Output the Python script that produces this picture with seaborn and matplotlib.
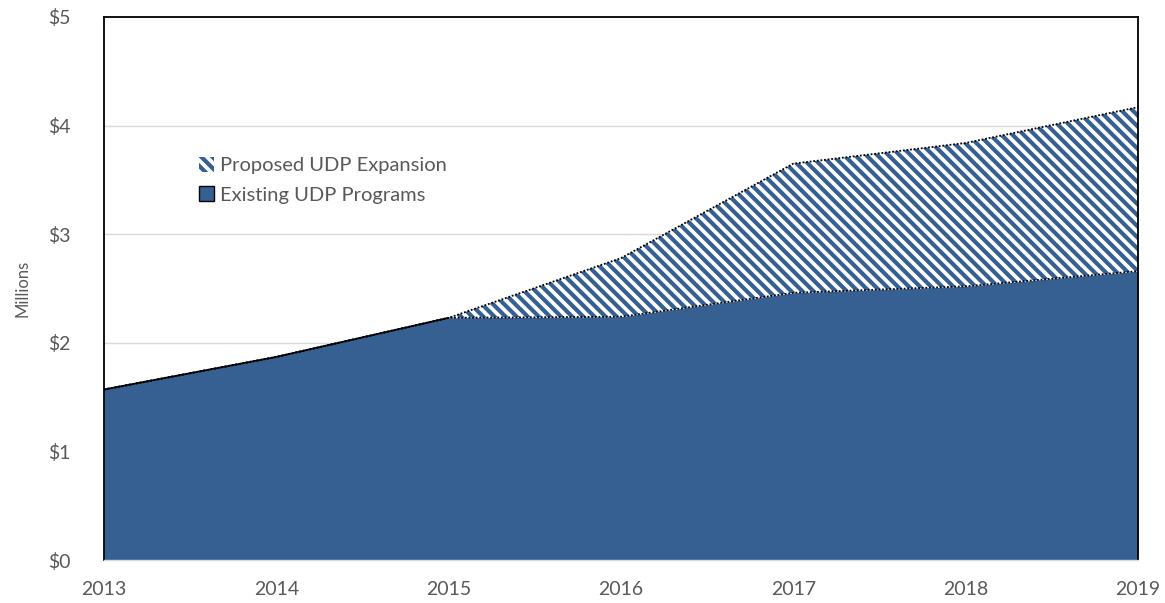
import matplotlib
matplotlib.use("Agg")
import matplotlib.pyplot as plt
import seaborn as sns
import pandas as pd
from matplotlib.patches import Patch

years = [2013, 2014, 2015, 2016, 2017, 2018, 2019]
existing = [1.57, 1.87, 2.23, 2.24, 2.46, 2.52, 2.66]
total = [1.57, 1.87, 2.23, 2.78, 3.65, 3.84, 4.17]
yticks = [0, 1, 2, 3, 4, 5]
ytick_labels = ["$0", "$1", "$2", "$3", "$4", "$5"]
series_names = ["Proposed UDP Expansion", "Existing UDP Programs"]

sns.set_theme(style="white")
plt.rcParams['font.family'] = ['Lato', 'DejaVu Sans']
plt.rcParams['hatch.linewidth'] = 3.0
plt.rcParams['hatch.color'] = '#376092'

blue = '#376092'
txt = '#595959'

df = pd.DataFrame({"year": years, "existing": existing, "total": total})

fig = plt.figure(figsize=(11.65, 6.03), dpi=100)
ax = fig.add_axes([104/1165, 1-560/603, (1138-104)/1165, (560-17)/603])

for y in [1, 2, 3, 4]:
    ax.axhline(y, color='#d9d9d9', lw=1, zorder=0)

ax.fill_between(df["year"], 0, df["existing"], color=blue, lw=0, zorder=2)
ax.fill_between(df["year"], df["existing"], df["total"], facecolor='white',
                edgecolor=blue, hatch='\\\\\\', lw=0, zorder=2)
sns.lineplot(data=df, x="year", y="total", ax=ax, color='black', lw=1.3,
             linestyle=(0, (1, 1)), zorder=3)
sns.lineplot(data=df, x="year", y="existing", ax=ax, color='black', lw=1.3,
             linestyle=(0, (1, 1)), zorder=3)
ax.plot(years[:3], existing[:3], color='black', lw=1.3, zorder=4)

ax.set_xlim(2013, 2019)
ax.set_ylim(0, 5)
ax.set_xticks(years)
ax.set_xticklabels([str(y) for y in years], fontsize=14, color=txt)
ax.set_yticks(yticks)
ax.set_yticklabels(ytick_labels, fontsize=14, color=txt)
ax.set_xlabel("")
ax.set_ylabel("Millions", fontsize=12, color=txt, labelpad=13)
ax.tick_params(axis='x', length=0, pad=15)
ax.tick_params(axis='y', length=0, pad=24)
for s in ['left', 'top', 'right']:
    ax.spines[s].set_color('black')
    ax.spines[s].set_linewidth(1.3)
ax.spines['bottom'].set_color('#d9d9d9')
ax.spines['bottom'].set_linewidth(1)

handles = [
    Patch(facecolor='white', edgecolor=blue, hatch='\\\\\\', lw=0),
    Patch(facecolor=blue, edgecolor='black', lw=1),
]
leg = ax.legend(handles, series_names, loc='upper left',
                bbox_to_anchor=(0.074, 0.776), frameon=False, fontsize=14.5,
                handlelength=0.75, handleheight=0.75, handletextpad=0.3,
                labelspacing=0.6, labelcolor=txt)

fig.savefig("out.png", dpi=100)
